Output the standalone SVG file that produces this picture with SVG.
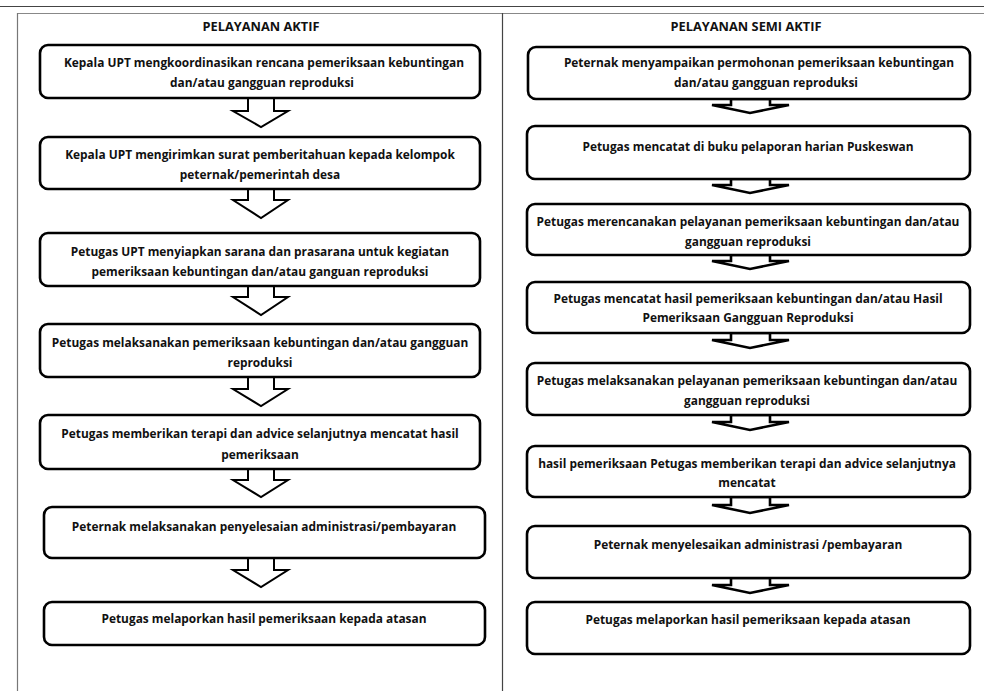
<svg xmlns="http://www.w3.org/2000/svg" width="984" height="691" viewBox="0 0 984 691">
<style>
.box{fill:#fff;stroke:#000;stroke-width:2.6}
.arr{fill:#fff;stroke:#000;stroke-width:2;stroke-linejoin:miter}
.arr2{fill:#fff;stroke:#000;stroke-width:2.6;stroke-linejoin:miter}
text{font-family:"Open Sans","Liberation Sans",sans-serif;font-weight:700;font-size:11.9px;fill:#111;text-anchor:middle}
.title{font-size:12.8px}
</style>
<rect x="0" y="0" width="984" height="691" fill="#fff"/>
<g id="frame">
<line x1="0" y1="6.5" x2="984" y2="6.5" stroke="#444" stroke-width="1.2"/>
<line x1="17" y1="13.5" x2="984" y2="13.5" stroke="#888" stroke-width="1.2"/>
<line x1="17.5" y1="13" x2="17.5" y2="691" stroke="#777" stroke-width="1.2"/>
<line x1="502.5" y1="13" x2="502.5" y2="691" stroke="#444" stroke-width="1.2"/>
</g>
<g id="titles">
<text class="title" x="261" y="31">PELAYANAN AKTIF</text>
<text class="title" x="746" y="31">PELAYANAN SEMI AKTIF</text>
</g>
<g id="connectors">
<polygon class="arr" points="248,98 248,111 233,111 261,127 288,111 274,111 274,98"/>
<polygon class="arr" points="248,189 248,200 233,200 261,218 288,200 274,200 274,189"/>
<polygon class="arr" points="248,286 248,297 233,297 261,315 288,297 274,297 274,286"/>
<polygon class="arr" points="248,377 248,389 233,389 261,406 288,389 274,389 274,377"/>
<polygon class="arr" points="248,469 248,480 233,480 261,497 288,480 274,480 274,469"/>
<polygon class="arr" points="248,558 248,570 233,570 261,587 288,570 274,570 274,558"/>
<polygon class="arr2" points="731,99 731,105 712,105 750,113 789,105 770,105 770,99"/>
<polygon class="arr2" points="731,179 731,185 712,185 750,193 789,185 770,185 770,179"/>
<polygon class="arr2" points="731,255 731,261 712,261 750,269 789,261 770,261 770,255"/>
<polygon class="arr2" points="731,333 731,340 712,340 750,348 789,340 770,340 770,333"/>
<polygon class="arr2" points="731,415 731,422 712,422 750,430 789,422 770,422 770,415"/>
<polygon class="arr2" points="731,497 731,505 712,505 750,513 789,505 770,505 770,497"/>
<polygon class="arr2" points="731,578 731,585 712,585 750,593 789,585 770,585 770,578"/>
</g>
<g id="L1"><rect class="box" x="40" y="45" width="440" height="53" rx="8"/>
<text x="264" y="67">Kepala UPT mengkoordinasikan rencana pemeriksaan kebuntingan</text>
<text x="262" y="87">dan/atau gangguan reproduksi</text></g>
<g id="L2"><rect class="box" x="40" y="137" width="440" height="52" rx="8"/>
<text x="260" y="159">Kepala UPT mengirimkan surat pemberitahuan kepada kelompok</text>
<text x="260" y="179">peternak/pemerintah desa</text></g>
<g id="L3"><rect class="box" x="40" y="233" width="440" height="53" rx="8"/>
<text x="260" y="256">Petugas UPT menyiapkan sarana dan prasarana untuk kegiatan</text>
<text x="260" y="276">pemeriksaan kebuntingan dan/atau ganguan reproduksi</text></g>
<g id="L4"><rect class="box" x="40" y="324" width="440" height="53" rx="8"/>
<text x="260" y="347">Petugas melaksanakan pemeriksaan kebuntingan dan/atau gangguan</text>
<text x="260" y="367">reproduksi</text></g>
<g id="L5"><rect class="box" x="40" y="415" width="440" height="54" rx="8"/>
<text x="260" y="438">Petugas memberikan terapi dan advice selanjutnya mencatat hasil</text>
<text x="260" y="459">pemeriksaan</text></g>
<g id="L6"><rect class="box" x="44" y="507" width="441" height="51" rx="8"/>
<text x="264" y="531">Peternak melaksanakan penyelesaian administrasi/pembayaran</text></g>
<g id="L7"><rect class="box" x="44" y="602" width="441" height="43" rx="8"/>
<text x="264" y="623">Petugas melaporkan hasil pemeriksaan kepada atasan</text></g>
<g id="R1"><rect class="box" x="528" y="47" width="442" height="52" rx="8"/>
<text x="759" y="67">Peternak menyampaikan permohonan pemeriksaan kebuntingan</text>
<text x="766" y="87">dan/atau gangguan reproduksi</text></g>
<g id="R2"><rect class="box" x="527" y="126" width="443" height="53" rx="8"/>
<text x="748" y="151">Petugas mencatat di buku pelaporan harian Puskeswan</text></g>
<g id="R3"><rect class="box" x="527" y="204" width="443" height="51" rx="8"/>
<text x="748" y="226">Petugas merencanakan pelayanan pemeriksaan kebuntingan dan/atau</text>
<text x="748" y="246">gangguan reproduksi</text></g>
<g id="R4"><rect class="box" x="527" y="282" width="443" height="51" rx="8"/>
<text x="748" y="303">Petugas mencatat hasil pemeriksaan kebuntingan dan/atau Hasil</text>
<text x="748" y="322">Pemeriksaan Gangguan Reproduksi</text></g>
<g id="R5"><rect class="box" x="527" y="363" width="443" height="52" rx="8"/>
<text x="747" y="385">Petugas melaksanakan pelayanan pemeriksaan kebuntingan dan/atau</text>
<text x="747" y="405">gangguan reproduksi</text></g>
<g id="R6"><rect class="box" x="527" y="446" width="443" height="51" rx="8"/>
<text x="747" y="468">hasil pemeriksaan Petugas memberikan terapi dan advice selanjutnya</text>
<text x="747" y="487">mencatat</text></g>
<g id="R7"><rect class="box" x="527" y="526" width="443" height="52" rx="8"/>
<text x="748" y="549">Peternak menyelesaikan administrasi /pembayaran</text></g>
<g id="R8"><rect class="box" x="527" y="602" width="443" height="52" rx="8"/>
<text x="748" y="624">Petugas melaporkan hasil pemeriksaan kepada atasan</text></g>
</svg>
